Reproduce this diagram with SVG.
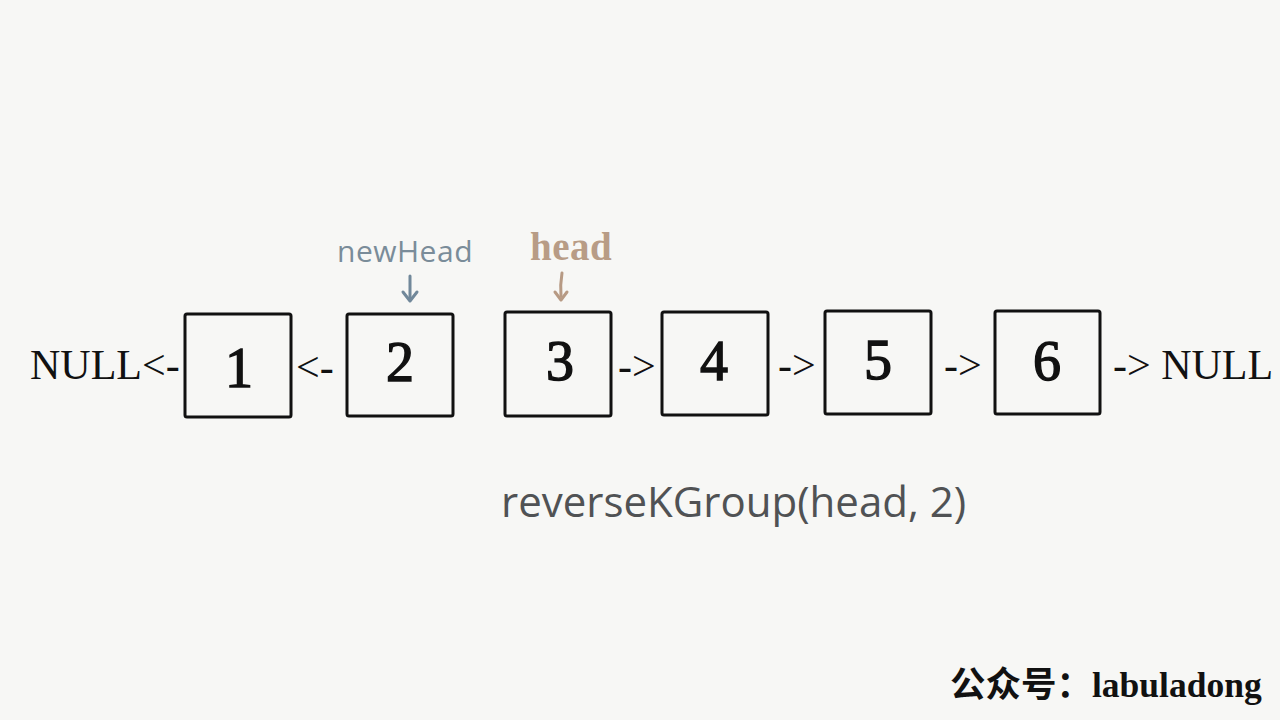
<svg xmlns="http://www.w3.org/2000/svg" width="1280" height="720" viewBox="0 0 1280 720">
<style>
.box{fill:none;stroke:#111;stroke-width:3}
.num{font-family:"Liberation Serif","DejaVu Serif",serif;font-size:56px;fill:#111;stroke:#111;stroke-width:1.4;text-anchor:middle}
.lnk{font-family:"Liberation Serif","DejaVu Serif",serif;font-size:42px;fill:#111}
</style>
<rect width="1280" height="720" fill="#f7f7f5"/>
<g id="node1"><rect class="box" x="185" y="314" width="106" height="103" rx="2"/><text class="num" x="239" y="387">1</text></g>
<g id="node2"><rect class="box" x="347" y="314" width="106" height="102" rx="2"/><text class="num" x="400" y="381">2</text></g>
<g id="node3"><rect class="box" x="505" y="312" width="106" height="104" rx="2"/><text class="num" x="560" y="380">3</text></g>
<g id="node4"><rect class="box" x="662" y="312" width="106" height="103" rx="2"/><text class="num" x="714" y="380">4</text></g>
<g id="node5"><rect class="box" x="825" y="311" width="106" height="103" rx="2"/><text class="num" x="878" y="379">5</text></g>
<g id="node6"><rect class="box" x="995" y="311" width="105" height="103" rx="2"/><text class="num" x="1047" y="380">6</text></g>
<g id="connectors">
<text class="lnk" x="30" y="379">NULL&lt;-</text>
<text class="lnk" x="296" y="381">&lt;-</text>
<text class="lnk" x="618" y="380">-&gt;</text>
<text class="lnk" x="778" y="379">-&gt;</text>
<text class="lnk" x="944" y="379">-&gt;</text>
<text class="lnk" x="1113" y="379">-&gt; NULL</text>
<g fill="none" stroke-width="3" stroke-linecap="round">
<path d="M410,276 L410,298" stroke="#71889a"/>
<path d="M403,292 L410,301 L417,292" stroke="#71889a" stroke-linejoin="round"/>
<path d="M562,273 Q560,285 561,296" stroke="#b79a84"/>
<path d="M555,292 L561,300 L567,292" stroke="#b79a84" stroke-linejoin="round"/>
</g>
</g>
<g id="labels">
<text x="337" y="262" font-family="'Open Sans','Noto Sans',sans-serif" font-size="30" letter-spacing="0.5" fill="#7a8c99">newHead</text>
<text x="530" y="260" font-family="'Liberation Serif','DejaVu Serif',serif" font-weight="bold" font-size="39" letter-spacing="0.5" fill="#b89c86">head</text>
<text x="501" y="517" font-family="'Open Sans','Noto Sans',sans-serif" font-size="42" fill="#505254">reverseKGroup(head, 2)</text>
<text x="950" y="697" font-family="'Liberation Serif','Noto Sans CJK SC',serif" font-weight="bold" font-size="35.5" fill="#111">公众号：labuladong</text>
</g>
</svg>
